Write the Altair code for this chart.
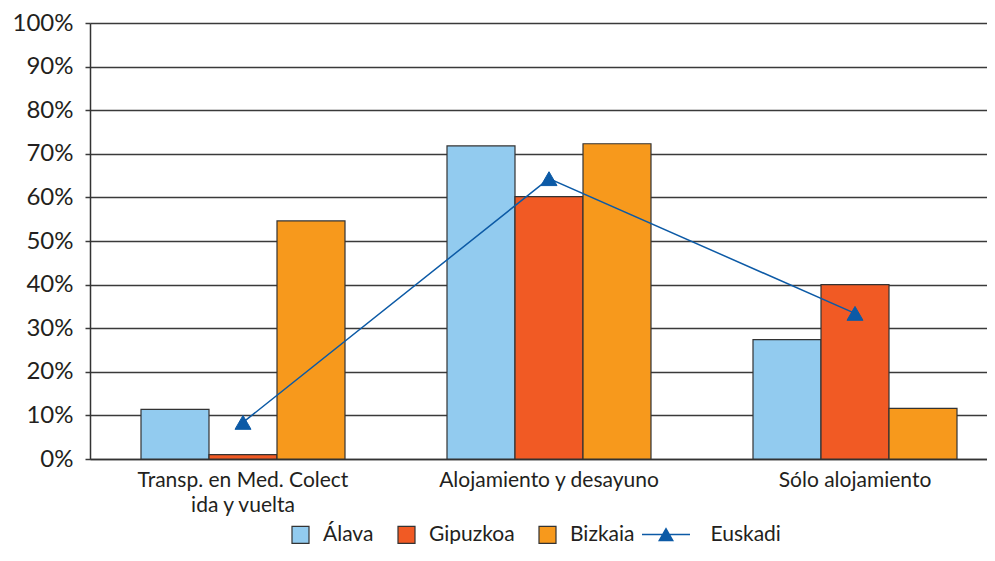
import altair as alt
import pandas as pd

categories = ["Transp. en Med. Colect\nida y vuelta", "Alojamiento y desayuno", "Sólo alojamiento"]
series = ["Álava", "Gipuzkoa", "Bizkaia"]
alava = [11.4, 71.8, 27.4]
gipuzkoa = [1.0, 60.2, 40.0]
bizkaia = [54.6, 72.3, 11.6]
euskadi = [8.4, 64.3, 33.4]
bar_colors = ["#92CBEF", "#F15A24", "#F7991C"]
line_color = "#0C5AA6"
y_ticks = [0, 10, 20, 30, 40, 50, 60, 70, 80, 90, 100]

FONT = "Lato"
TXT = "#231F20"

rows = []
for s, vals in zip(series, [alava, gipuzkoa, bizkaia]):
    for c, v in zip(categories, vals):
        rows.append({"cat": c, "serie": s, "val": v})
bars_df = pd.DataFrame(rows)
line_df = pd.DataFrame({"cat": categories, "serie": ["Euskadi"] * 3, "val": euskadi})

x_scale = alt.Scale(domain=categories, range=[0, 918], paddingInner=0, paddingOuter=0)
y_scale = alt.Scale(domain=[0, 100], nice=False)

x_axis = alt.Axis(title=None, labelExpr="split(datum.label, '\\n')", labelFont=FONT,
                  labelFontSize=21, labelColor=TXT, labelLineHeight=25, labelPadding=10,
                  labelLimit=0, ticks=False, domainColor="#333333", domainWidth=1.5,
                  labelAngle=0)
y_axis = alt.Axis(title=None, values=y_ticks, labelExpr="datum.value + '%'", labelFont=FONT,
                  labelFontSize=24, labelColor=TXT, labelPadding=12, tickSize=5,
                  tickColor="#3a3a3a", tickWidth=1.5, grid=True, gridColor="#3a3a3a",
                  gridWidth=1.5, domainColor="#333333", domainWidth=1.5)

bars = alt.Chart(bars_df).mark_bar(stroke="#333333", strokeWidth=1.2).encode(
    x=alt.X("cat:N", scale=x_scale, axis=x_axis, sort=categories),
    xOffset=alt.XOffset("serie:N", sort=series,
                        scale=alt.Scale(domain=series, paddingInner=0, paddingOuter=0.75)),
    y=alt.Y("val:Q", scale=y_scale, axis=y_axis),
    fill=alt.Fill("serie:N", sort=series,
                  scale=alt.Scale(domain=series, range=bar_colors),
                  legend=alt.Legend(title=None, orient="none", legendX=200, legendY=501,
                                    direction="horizontal", symbolType="square",
                                    symbolSize=289, symbolStrokeColor="#333333",
                                    symbolStrokeWidth=1.2, labelFont=FONT, labelFontSize=21,
                                    labelColor=TXT, labelOffset=12, columnPadding=21,
                                    padding=0)),
)

line = alt.Chart(line_df).mark_line(color=line_color, strokeWidth=1.5).encode(
    x=alt.X("cat:N", scale=x_scale, sort=categories),
    y=alt.Y("val:Q", scale=y_scale),
)

legend_path = "M-3,-0.08H3V0.08H-3ZM-1,0.85L0,-0.9L1,0.85Z"
points = alt.Chart(line_df).mark_point(filled=True, fill=line_color, stroke=line_color,
                                       strokeWidth=1, shape="triangle-up", size=256).encode(
    x=alt.X("cat:N", scale=x_scale, sort=categories),
    y=alt.Y("val:Q", scale=y_scale),
    opacity=alt.Opacity("serie:N", scale=alt.Scale(domain=["Euskadi"], range=[1]),
                        legend=alt.Legend(title=None, orient="none", legendX=565.5, legendY=501,
                                          symbolType=legend_path, symbolSize=256,
                                          symbolFillColor=line_color,
                                          symbolStrokeColor=line_color,
                                          symbolStrokeWidth=1,
                                          labelFont=FONT, labelFontSize=21,
                                          labelColor=TXT, labelOffset=34, padding=0)),
)

chart = alt.layer(bars, line, points).resolve_scale(fill="independent").properties(
    width=897, height=436,
    autosize=alt.AutoSizeParams(type="none"),
    padding={"left": 82, "top": 15, "right": 0, "bottom": 85},
).configure_view(stroke=None).configure(background="white")

chart.save("out.html", embed_options={"renderer": "svg", "actions": False})
